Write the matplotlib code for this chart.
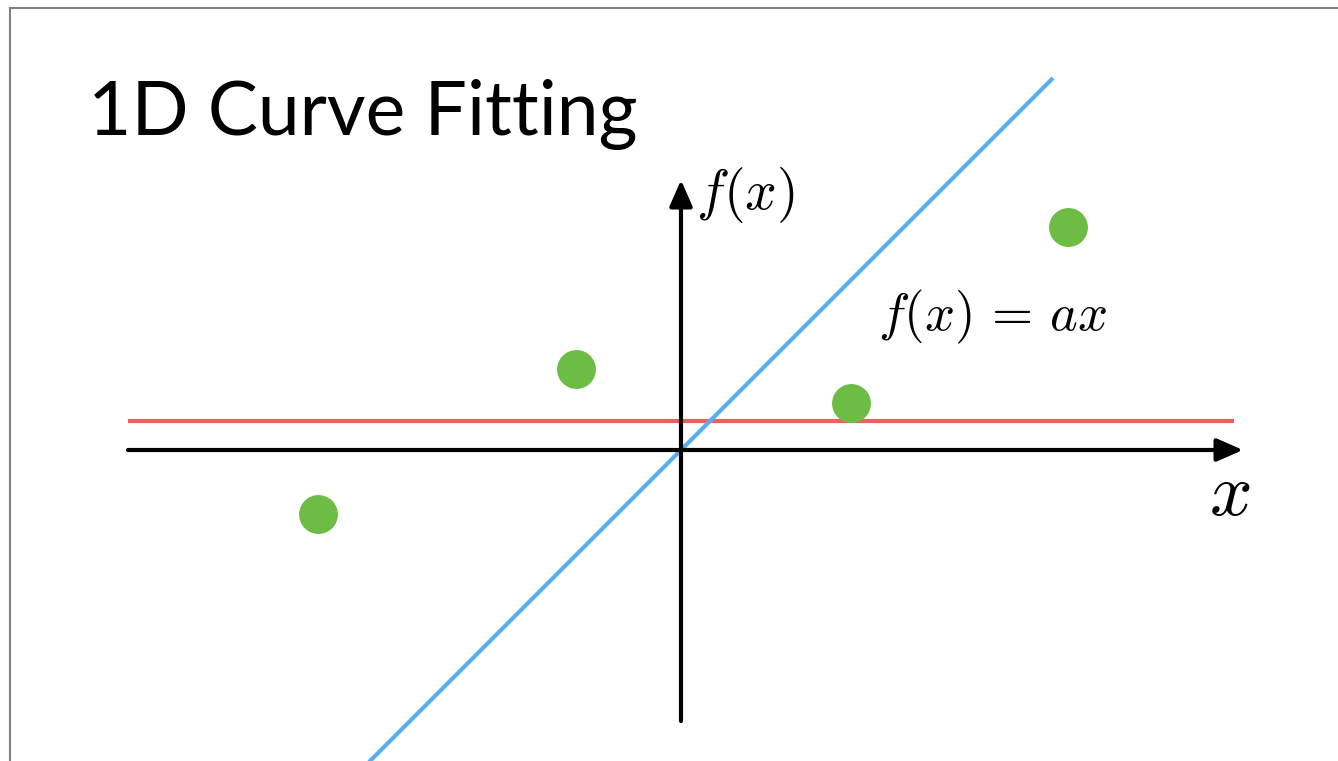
import numpy as np
import matplotlib.pyplot as plt
from matplotlib.lines import Line2D

plt.rcParams['mathtext.fontset'] = 'cm'

# ---------------------------------------------------------------------------
# data (slide units, origin where the two axes cross)
# ---------------------------------------------------------------------------
pts_x = [-3.63, -1.05, 1.70, 3.87]
pts_y = [-0.64, 0.81, 0.47, 2.23]

slope_a = 1.0            # blue line f(x) = a x
const_b = 0.29           # red line f(x) = b
fit_x = [-3.2, 3.72]
const_x = [-5.53, 5.53]

title = '1D Curve Fitting'

# ---------------------------------------------------------------------------
fig = plt.figure(figsize=(13.38, 7.61), dpi=100)
ax = fig.add_axes([0, 0, 1, 1])
ax.set_xlim(-6.81, 6.57)
ax.set_ylim(-3.11, 4.50)
ax.axis('off')

# slide frame (top + left edge)
fig.add_artist(Line2D([0.0075, 1], [1 - 8 / 761, 1 - 8 / 761], color='#808080', lw=1.5))
fig.add_artist(Line2D([0.0075, 0.0075], [0, 1 - 8 / 761], color='#808080', lw=1.5))

# axes arrows
arrow = dict(arrowstyle='-|>,head_length=0.8,head_width=0.35', lw=3, color='black',
             mutation_scale=20, shrinkA=0, shrinkB=0)
ax.annotate('', xy=(5.62, 0), xytext=(-5.53, 0), arrowprops=arrow)
ax.annotate('', xy=(0, 2.70), xytext=(0, -2.71), arrowprops=arrow)

# fits
ax.plot(const_x, [const_b, const_b], color='#E8625A', lw=3, solid_capstyle='butt')
fx = np.array(fit_x)
ax.plot(fx, slope_a * fx, color='#55AEF6', lw=3, solid_capstyle='butt')

# data points
ax.plot(pts_x, pts_y, 'o', color='#6DBD45', ms=28, mec='none')

# labels
ax.text(0.15, 2.55, r'$f(x)$', fontsize=40, ha='left', va='center')
ax.text(1.97, 1.33, r'$f(x)\,=\,ax$', fontsize=38, ha='left', va='center')
ax.text(5.49, -0.44, r'$x$', fontsize=54, ha='center', va='center')

fig.text(88 / 1338, 1 - 135 / 761, title, fontsize=54, family='Lato',
         ha='left', va='baseline')

plt.savefig('out.png', dpi=100)
